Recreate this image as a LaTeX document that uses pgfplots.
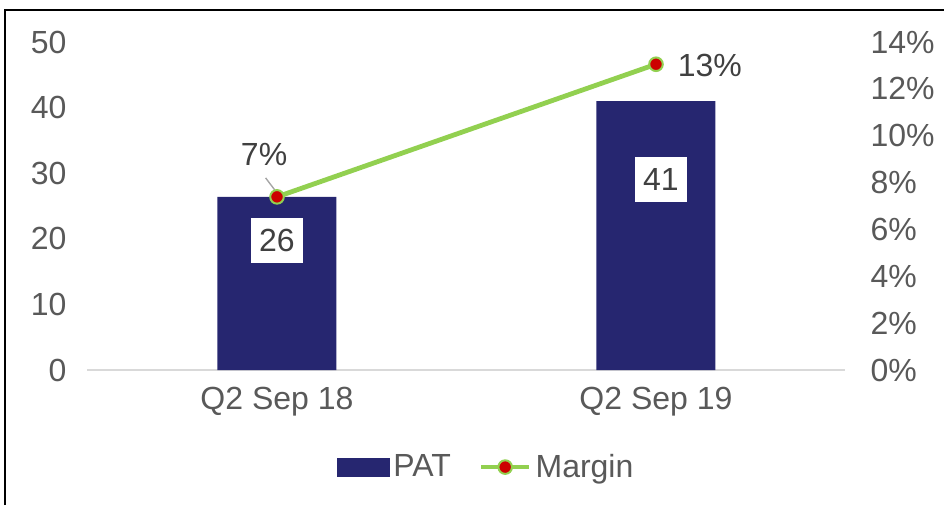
\documentclass[border=0pt]{standalone}
\usepackage{pgfplots}
\pgfplotsset{compat=1.18}
\usepackage{fontspec}
\setmainfont{Liberation Sans}
\definecolor{barblue}{RGB}{38,38,112}
\definecolor{lgreen}{RGB}{146,208,80}
\definecolor{mred}{RGB}{204,0,0}
\definecolor{tickgray}{RGB}{89,89,89}
\definecolor{lblgray}{RGB}{64,64,64}
\definecolor{axgray}{RGB}{217,217,217}
\newcommand{\bigf}{\fontsize{16}{19}\selectfont}
\pgfplotsset{
  mylineleg/.style={legend image code/.code={\draw[mark repeat=2,mark phase=2,##1] plot coordinates {(0pt,0pt) (12pt,0pt) (24pt,0pt)};}},
  mybarleg/.style={legend image code/.code={\fill[barblue] (0pt,-4.5pt) rectangle (26pt,4.5pt);}},
}
\begin{document}
\begin{tikzpicture}
\pgfplotsset{
  common/.style={
    at={(0pt,0pt)}, anchor=south west,
    scale only axis, width=379pt, height=164pt,
    xmin=-0.5, xmax=1.5,
    major tick length=0pt,
    /pgf/number format/assume math mode=true,
    tick label style={font=\bigf, text=tickgray},
    clip=false,
  }
}
\begin{axis}[common,
  ymin=0, ymax=50, ytick={0,10,...,50},
  axis x line*=bottom, axis y line*=left,
  y axis line style={draw=none},
  x axis line style={draw=axgray, line width=1pt, -},
  xtick={0,1}, xticklabels={Q2 Sep 18, Q2 Sep 19},
  xticklabel style={yshift=-5pt},
  yticklabel style={xshift=-7pt},
]
\addplot[ybar, bar width=59.5pt, fill=barblue, draw=none] coordinates {(0,26.4) (1,41.0)};
\node[fill=white, font=\bigf, text=lblgray, minimum width=26pt, minimum height=22.5pt, inner sep=0pt] at (axis cs:0,19.8) {26};
\node[fill=white, font=\bigf, text=lblgray, minimum width=26pt, minimum height=22.5pt, inner sep=0pt] at (axis cs:1.013,29.0) {41};
\end{axis}
\begin{axis}[common,
  ymin=0, ymax=14, ytick={0,2,...,14},
  axis x line=none, axis y line*=right,
  y axis line style={draw=none},
  yticklabel={\pgfmathprintnumber{\tick}\%},
  yticklabel style={xshift=9pt},
  legend columns=2,
  legend style={at={(0.527,-0.296)}, anchor=center, draw=none, fill=none,
    font=\bigf, text=tickgray,
    /tikz/every even column/.append style={column sep=12pt},
    /tikz/every odd column/.append style={column sep=0pt}},
]
\addlegendimage{mybarleg}
\addlegendentry{PAT}
\addplot[lgreen, line width=2.4pt, mark=*, mark size=3.4pt,
  mark options={fill=mred, draw=lgreen, line width=1pt}, mylineleg]
  coordinates {(0,7.39) (1,13.05)};
\addlegendentry{Margin}
\draw[gray!70, line width=0.7pt] (axis cs:-0.03,8.2) -- (axis cs:-0.002,7.6);
\node[font=\bigf, text=lblgray] at (axis cs:-0.034,9.22) {7\%};
\node[font=\bigf, text=lblgray] at (axis cs:1.142,13.0) {13\%};
\end{axis}
\draw[black, line width=1pt] (-41.25pt,-67.5pt) -- (-41.25pt,180pt) -- (428.25pt,180pt);
\pgfresetboundingbox
\useasboundingbox (-43.75pt,-67.5pt) rectangle (428.25pt,185pt);
\end{tikzpicture}
\end{document}
